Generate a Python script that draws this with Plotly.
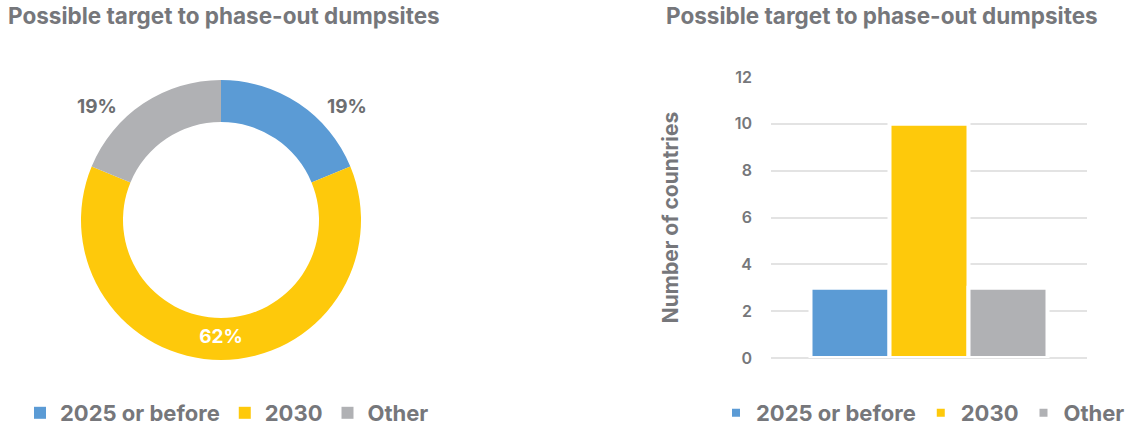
import plotly.graph_objects as go

categories = ["2025 or before", "2030", "Other"]
countries = [3, 10, 3]
pct_labels = ["19%", "62%", "19%"]
colors = ["#5B9BD5", "#FEC90B", "#B0B1B4"]
title_text = "Possible target to phase-out dumpsites"
y_title = "Number of countries"
y_ticks = [0, 2, 4, 6, 8, 10, 12]

W, H = 1140, 427
FONT = "Inter"
TXT = "#76777B"

def px(x):
    return x / W

def py(y):
    return 1 - y / H

fig = go.Figure()

# Donut
fig.add_trace(go.Pie(
    labels=categories, values=countries,
    marker=dict(colors=colors, line=dict(width=0)),
    hole=0.70, sort=False, direction="clockwise", rotation=0,
    text=["", pct_labels[1], ""], textinfo="text",
    textposition="inside", insidetextorientation="horizontal",
    textfont=dict(family=FONT, size=19, color="white", weight="bold"),
    domain=dict(x=[px(81), px(361)], y=[py(360), py(80)]),
    legend="legend", hoverinfo="label+value",
))

# Bars
for cat, val, col in zip(categories, countries, colors):
    fig.add_trace(go.Bar(
        x=["Countries"], y=[val], name=cat,
        marker=dict(color=col, line=dict(color="white", width=4)),
        legend="legend2", xaxis="x", yaxis="y",
    ))

title_font = dict(family=FONT, size=22.5, color=TXT, weight="bold")
pct_font = dict(family=FONT, size=19, color="#6D6E71", weight="bold")
annotations = [
    dict(text=title_text, x=px(6), y=py(15), xref="paper", yref="paper",
         xanchor="left", yanchor="middle", showarrow=False, font=title_font),
    dict(text=title_text, x=px(664), y=py(15), xref="paper", yref="paper",
         xanchor="left", yanchor="middle", showarrow=False, font=title_font),
    dict(text=pct_labels[0], x=px(347), y=py(106), xref="paper", yref="paper",
         xanchor="center", yanchor="middle", showarrow=False, font=pct_font),
    dict(text=pct_labels[2], x=px(97), y=py(106), xref="paper", yref="paper",
         xanchor="center", yanchor="middle", showarrow=False, font=pct_font),
]

legend_font = dict(family=FONT, size=22, color=TXT, weight="bold")

fig.update_layout(
    width=W, height=H,
    margin=dict(l=0, r=0, t=0, b=0, autoexpand=False),
    paper_bgcolor="white", plot_bgcolor="white",
    barmode="group", bargap=0.25, bargroupgap=0,
    showlegend=True,
    legend=dict(orientation="h", x=px(20), y=py(413), xanchor="left", yanchor="middle",
                font=legend_font, itemwidth=30, traceorder="normal"),
    legend2=dict(orientation="h", x=px(716), y=py(413), xanchor="left", yanchor="middle",
                 font=legend_font, itemwidth=30, traceorder="normal"),
    xaxis=dict(domain=[px(771), px(1087)], showticklabels=False, showgrid=False,
               zeroline=False, showline=False, fixedrange=True),
    yaxis=dict(domain=[py(358), py(77)], range=[0, 12], tickvals=y_ticks,
               showgrid=True, gridcolor="#E3E3E3", gridwidth=1.5,
               zeroline=True, zerolinecolor="#E3E3E3", zerolinewidth=1.5,
               showline=False, ticks="", ticklabelstandoff=18,
               tickfont=dict(family=FONT, size=16, color=TXT, weight=600),
               title=dict(text=y_title, standoff=50,
                          font=dict(family=FONT, size=21, color=TXT, weight="bold"))),
    annotations=annotations,
)

fig.write_html(
    "out.html",
    config={"displayModeBar": False},
    post_script="document.body.style.margin='0';document.body.style.overflow='hidden';",
)
